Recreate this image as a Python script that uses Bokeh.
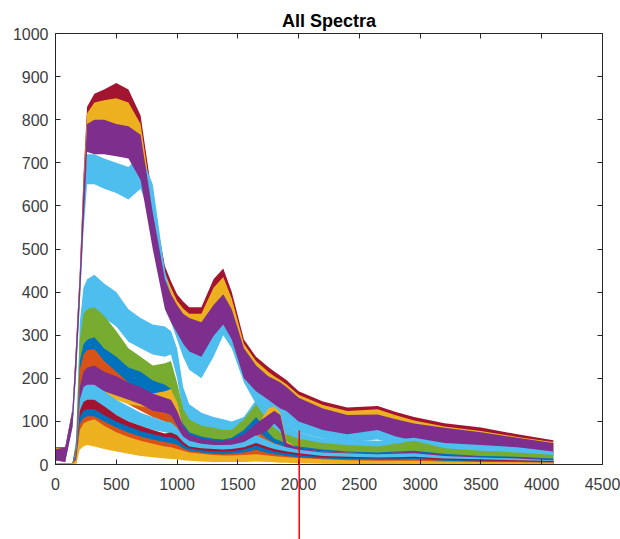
from bokeh.plotting import figure
from bokeh.models import Range1d, LinearAxis, FixedTicker, Label
from bokeh.embed import file_html
from bokeh.resources import INLINE

CH = [0, 80, 140, 170, 200, 230, 260, 320, 400, 500, 600, 700, 800, 900, 950,
      1000, 1050, 1100, 1200, 1300, 1380, 1450, 1550, 1650, 1750, 1800, 1850,
      1900, 2000, 2200, 2400, 2650, 2800, 2950, 3200, 3500, 3800, 4095]

TITLE = "All Spectra"
X_TICKS = [0, 500, 1000, 1500, 2000, 2500, 3000, 3500, 4000, 4500]
Y_TICKS = [0, 100, 200, 300, 400, 500, 600, 700, 800, 900, 1000]
X_LIM = (0, 4500)
Y_LIM = (0, 1000)
# visible view around the axes box (room for title, tick labels and the red marker)
X_VIEW = (-452.5, 4648.0)
Y_VIEW = (-174.0, 1076.6)
TITLE_Y = 1030

MARK_X = 2005
MARK_TOP = 79

# --- high group ---
A_LO = [15, 10, 95, 225, 390, 580, 770, 790, 800, 805, 800, 720, 540, 390, 360, 335, 315, 300, 295, 365, 390, 330, 235, 195, 172, 162, 152, 142, 118, 98, 88, 96, 82, 72, 57, 46, 34, 26]
A_HI = [40, 40, 130, 285, 450, 670, 830, 860, 870, 885, 870, 810, 615, 460, 425, 395, 378, 365, 365, 430, 455, 400, 290, 250, 226, 216, 206, 196, 170, 146, 132, 136, 122, 110, 96, 86, 70, 56]
YH_LO = [14, 10, 92, 222, 388, 570, 750, 770, 775, 775, 770, 700, 525, 375, 345, 320, 300, 285, 285, 345, 375, 315, 222, 185, 162, 152, 143, 134, 110, 90, 80, 88, 74, 64, 50, 40, 30, 22]
YH_HI = [38, 38, 128, 282, 448, 655, 815, 840, 845, 850, 840, 790, 600, 445, 410, 380, 362, 350, 350, 410, 435, 385, 280, 240, 215, 205, 196, 186, 162, 138, 124, 128, 114, 102, 88, 78, 64, 52]
LBH_LO = [8, 8, 85, 210, 370, 540, 650, 650, 640, 630, 615, 640, 560, 380, 330, 290, 250, 220, 200, 250, 300, 270, 190, 140, 120, 110, 105, 98, 75, 60, 52, 58, 48, 38, 30, 24, 17, 12]
LBH_HI = [30, 35, 125, 270, 430, 620, 720, 720, 710, 700, 690, 720, 650, 450, 390, 350, 310, 280, 260, 320, 360, 330, 240, 190, 165, 155, 148, 140, 115, 100, 90, 95, 84, 74, 64, 54, 44, 34]
P_LO = [10, 5, 88, 218, 380, 555, 725, 720, 720, 715, 710, 660, 500, 360, 330, 305, 280, 262, 250, 298, 325, 290, 200, 170, 150, 140, 130, 124, 100, 80, 70, 80, 65, 55, 45, 35, 25, 20]
P_HI = [35, 40, 125, 278, 440, 640, 790, 800, 800, 790, 785, 765, 585, 430, 395, 370, 350, 340, 330, 370, 395, 360, 270, 230, 205, 198, 190, 180, 155, 130, 115, 116, 105, 95, 85, 75, 62, 50]

# --- middle / low group ---
LB1_LO = [0, 0, 0, 20, 250, 340, 360, 360, 340, 320, 285, 270, 255, 250, 255, 200, 120, 90, 80, 70, 65, 65, 75, 110, 90, 80, 75, 70, 40, 35, 32, 30, 32, 35, 25, 20, 18, 12]
LB1_HI = [3, 3, 3, 60, 330, 410, 430, 440, 420, 400, 360, 340, 325, 320, 310, 270, 180, 140, 120, 110, 105, 100, 110, 150, 125, 115, 110, 100, 75, 60, 58, 55, 58, 62, 50, 45, 40, 30]
G1_LO = [0, 0, 0, 15, 220, 280, 290, 290, 270, 240, 200, 180, 170, 170, 175, 120, 85, 65, 55, 50, 50, 50, 70, 95, 65, 50, 45, 40, 30, 25, 22, 20, 25, 30, 18, 14, 10, 8]
G1_HI = [3, 3, 3, 50, 290, 350, 360, 365, 345, 310, 270, 250, 230, 235, 240, 190, 130, 105, 90, 85, 80, 80, 105, 140, 100, 85, 75, 70, 60, 50, 45, 42, 48, 55, 38, 32, 28, 22]
B1_LO = [0, 0, 0, 10, 180, 220, 230, 230, 210, 190, 175, 165, 150, 140, 130, 90, 60, 45, 38, 35, 35, 38, 50, 75, 45, 35, 30, 25, 20, 15, 12, 10, 12, 14, 8, 6, 5, 3]
B1_HI = [3, 3, 3, 40, 240, 280, 290, 295, 270, 250, 225, 215, 195, 185, 175, 140, 95, 75, 65, 60, 58, 62, 80, 110, 75, 60, 55, 48, 42, 35, 30, 28, 30, 32, 25, 20, 18, 14]
O1_LO = [0, 0, 0, 10, 160, 200, 210, 205, 180, 160, 140, 125, 110, 100, 95, 70, 50, 40, 32, 28, 28, 30, 38, 50, 35, 28, 25, 22, 18, 12, 10, 8, 9, 10, 6, 5, 4, 2]
O1_HI = [3, 3, 3, 40, 220, 255, 265, 268, 240, 215, 190, 170, 150, 140, 135, 105, 80, 65, 55, 50, 48, 50, 60, 80, 58, 50, 45, 40, 35, 28, 25, 22, 24, 25, 18, 15, 13, 10]
Y2_LO = [0, 0, 0, 8, 120, 160, 170, 170, 160, 150, 140, 135, 130, 130, 135, 110, 60, 42, 35, 32, 32, 35, 40, 55, 100, 105, 90, 30, 18, 14, 12, 10, 11, 12, 8, 6, 5, 3]
Y2_HI = [3, 3, 3, 30, 170, 205, 215, 220, 205, 195, 180, 170, 165, 170, 175, 145, 90, 65, 55, 52, 52, 55, 65, 85, 130, 135, 120, 55, 36, 30, 28, 25, 27, 28, 20, 16, 14, 10]
P1_LO = [0, 0, 0, 8, 130, 170, 180, 180, 170, 160, 150, 140, 125, 120, 115, 90, 60, 45, 38, 35, 35, 38, 45, 65, 80, 95, 80, 25, 18, 14, 12, 10, 12, 13, 8, 6, 5, 3]
P1_HI = [3, 3, 3, 30, 180, 215, 225, 230, 215, 205, 190, 180, 165, 155, 150, 125, 90, 70, 60, 55, 55, 58, 70, 95, 115, 125, 115, 50, 38, 30, 28, 26, 28, 30, 22, 18, 16, 12]
LB2_LO = [0, 0, 0, 5, 110, 140, 145, 140, 130, 115, 100, 90, 80, 75, 72, 60, 45, 38, 32, 30, 30, 30, 35, 45, 35, 30, 26, 24, 18, 14, 12, 10, 11, 12, 8, 6, 5, 3]
LB2_HI = [3, 3, 3, 25, 150, 180, 185, 185, 170, 150, 135, 120, 110, 100, 98, 85, 65, 55, 48, 45, 45, 46, 52, 68, 55, 48, 44, 40, 34, 28, 26, 24, 25, 26, 20, 16, 14, 10]
R1_LO = [0, 0, 0, 5, 90, 110, 115, 110, 100, 85, 75, 65, 58, 52, 52, 48, 35, 28, 24, 22, 22, 23, 26, 32, 25, 22, 20, 18, 14, 10, 9, 8, 8, 9, 6, 4, 3, 2]
R1_HI = [3, 3, 3, 20, 125, 145, 150, 150, 135, 115, 100, 90, 80, 72, 74, 68, 52, 42, 38, 36, 35, 36, 40, 50, 40, 36, 33, 30, 26, 20, 18, 16, 17, 18, 14, 12, 10, 8]
B2_LO = [0, 0, 0, 4, 80, 95, 100, 95, 85, 75, 65, 56, 50, 45, 45, 40, 30, 24, 20, 18, 18, 19, 22, 28, 21, 18, 16, 14, 11, 8, 7, 6, 6, 7, 5, 3, 2, 1]
B2_HI = [3, 3, 3, 18, 110, 125, 128, 128, 115, 100, 88, 78, 70, 64, 64, 58, 45, 38, 33, 30, 30, 31, 35, 44, 34, 30, 28, 26, 22, 17, 15, 14, 14, 15, 11, 9, 8, 6]
O2_LO = [0, 0, 0, 3, 60, 72, 76, 74, 65, 55, 46, 40, 35, 31, 30, 27, 22, 18, 14, 12, 12, 13, 15, 19, 14, 12, 10, 9, 7, 5, 4, 3, 3, 4, 2, 1, 1, 0]
O2_HI = [3, 3, 3, 15, 95, 108, 112, 112, 100, 86, 74, 65, 58, 52, 50, 46, 38, 32, 28, 25, 24, 25, 28, 34, 26, 24, 22, 20, 17, 14, 12, 11, 11, 12, 9, 7, 6, 5]
Y1_LO = [0, 0, 0, 0, 35, 42, 45, 42, 36, 30, 25, 20, 17, 14, 13, 12, 10, 9, 7, 6, 6, 6, 6, 7, 6, 5, 4, 4, 3, 2, 1, 1, 1, 1, 0, 0, 0, 0]
Y1_HI = [3, 3, 3, 10, 80, 95, 100, 105, 90, 75, 64, 55, 48, 42, 40, 36, 32, 28, 25, 22, 21, 21, 22, 24, 21, 19, 18, 17, 15, 12, 10, 9, 9, 9, 7, 6, 5, 4]

BLUE, ORANGE, YELLOW, PURPLE = "#0072BD", "#D95319", "#EDB120", "#7E2F8E"
GREEN, LIGHTBLUE, DARKRED = "#77AC30", "#4DBEEE", "#A2142F"

SERIES = [
    (A_LO, A_HI, DARKRED), (YH_LO, YH_HI, YELLOW), (LBH_LO, LBH_HI, LIGHTBLUE),
    (P_LO, P_HI, PURPLE), (LB1_LO, LB1_HI, LIGHTBLUE), (G1_LO, G1_HI, GREEN),
    (B1_LO, B1_HI, BLUE), (O1_LO, O1_HI, ORANGE), (Y2_LO, Y2_HI, YELLOW),
    (P1_LO, P1_HI, PURPLE), (LB2_LO, LB2_HI, LIGHTBLUE), (R1_LO, R1_HI, DARKRED),
    (B2_LO, B2_HI, BLUE), (O2_LO, O2_HI, ORANGE), (Y1_LO, Y1_HI, YELLOW),
]

FONT = "Liberation Sans"
AX = "#262626"
LBL = "#3c3c3c"

p = figure(width=620, height=539, output_backend="svg", toolbar_location=None,
           x_range=Range1d(*X_VIEW), y_range=Range1d(*Y_VIEW),
           min_border_left=0, min_border_right=0, min_border_top=0,
           min_border_bottom=0)
p.background_fill_color = "white"
p.border_fill_color = "white"
p.grid.visible = False
p.outline_line_color = None


def style_axis(ax, ticks, bounds, fixed):
    ax.ticker = FixedTicker(ticks=ticks)
    ax.bounds = bounds
    ax.fixed_location = fixed
    ax.major_tick_in = 5
    ax.major_tick_out = 0
    ax.minor_tick_line_color = None
    ax.axis_line_color = AX
    ax.major_tick_line_color = AX
    ax.axis_line_width = 1
    ax.major_tick_line_width = 1


def hide_labels(ax, ticks):
    ax.major_label_overrides = {t: "" for t in ticks}
    ax.major_label_text_color = None
    ax.major_label_text_font_size = "1px"
    ax.major_label_standoff = 0


xa = p.xaxis[0]
style_axis(xa, X_TICKS, X_LIM, Y_LIM[0])
ya = p.yaxis[0]
style_axis(ya, Y_TICKS, Y_LIM, X_LIM[0])
for ax in (xa, ya):
    ax.major_label_text_font = FONT
    ax.major_label_text_font_size = "16px"
    ax.major_label_text_color = LBL
xa.major_label_standoff = 13
ya.major_label_standoff = 7

top = LinearAxis()
style_axis(top, X_TICKS, X_LIM, Y_LIM[1])
hide_labels(top, X_TICKS)
p.add_layout(top, "above")

right = LinearAxis()
style_axis(right, Y_TICKS, Y_LIM, X_LIM[1])
hide_labels(right, Y_TICKS)
p.add_layout(right, "right")

for lo, hi, col in SERIES:
    p.varea(x=CH, y1=lo, y2=hi, fill_color=col, fill_alpha=1.0)

mark = p.segment(x0=[MARK_X], y0=[MARK_TOP], x1=[MARK_X], y1=[Y_VIEW[0]],
                 line_color="#FF0000", line_width=1.5)
mark.level = "overlay"

p.add_layout(Label(x=(X_LIM[0] + X_LIM[1]) / 2, y=TITLE_Y, text=TITLE,
                   text_align="center", text_baseline="middle",
                   text_font=FONT, text_font_size="18px", text_font_style="bold",
                   text_color="#000000"))

open("out.html", "w").write(file_html(p, INLINE))
